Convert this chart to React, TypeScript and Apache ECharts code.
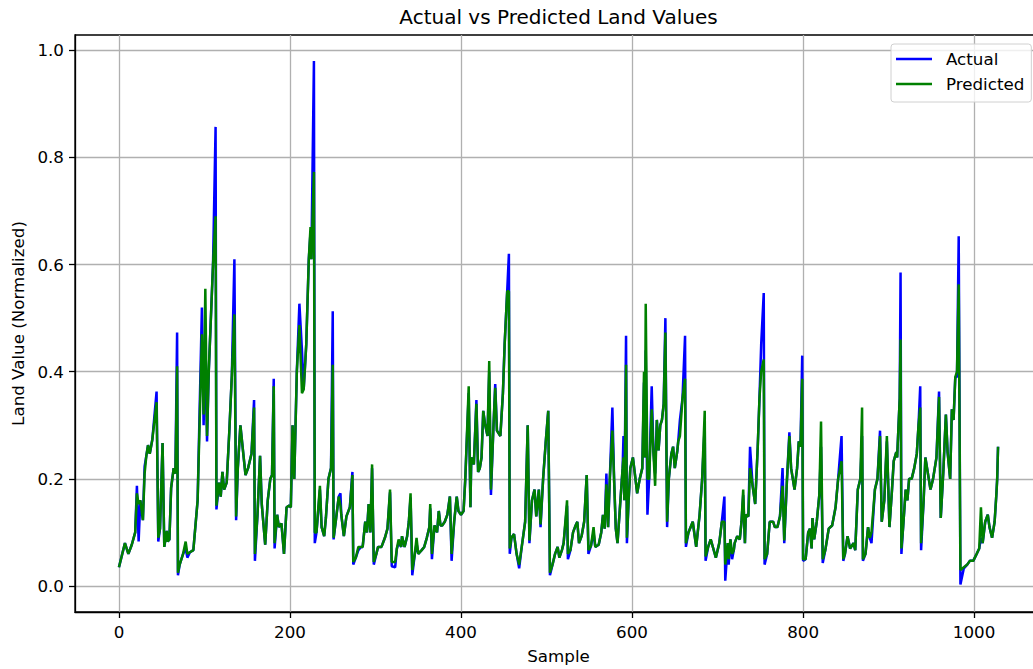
import React, { useEffect, useRef } from "react";
import * as echarts from "echarts";

const samples = [
  0, 7, 11, 15, 19, 21, 23, 25, 28, 30,
  32, 34, 36, 39, 44, 46, 48, 51, 53, 56,
  57, 59, 61, 64, 66, 68, 69, 71, 75, 78,
  80, 83, 87, 92, 97, 99, 101, 103, 105, 110,
  113, 114, 117, 119, 121, 123, 126, 129, 132, 135,
  137, 139, 142, 145, 148, 151, 155, 158, 159, 162,
  165, 167, 171, 174, 177, 179, 181, 182, 185, 187,
  190, 193, 196, 199, 201, 203, 205, 208, 211, 214,
  216, 219, 222, 224, 225, 228, 229, 231, 235, 237,
  240, 242, 245, 248, 250, 251, 254, 257, 259, 260,
  263, 266, 270, 273, 274, 277, 280, 283, 285, 288,
  290, 292, 294, 296, 298, 301, 303, 307, 311, 314,
  317, 319, 323, 325, 327, 330, 331, 334, 337, 339,
  341, 343, 346, 348, 350, 354, 357, 360, 363, 364,
  366, 369, 372, 374, 376, 378, 381, 384, 387, 389,
  392, 395, 397, 400, 403, 405, 409, 411, 412, 415,
  418, 420, 422, 424, 426, 428, 431, 433, 435, 438,
  440, 442, 446, 449, 451, 454, 456, 457, 459, 462,
  465, 468, 471, 475, 478, 480, 483, 486, 488, 491,
  493, 496, 499, 502, 504, 507, 510, 513, 515, 518,
  520, 524, 525, 528, 531, 534, 536, 538, 541, 544,
  547, 549, 552, 555, 557, 561, 564, 566, 568, 570,
  572, 574, 577, 579, 581, 583, 586, 589, 590, 591,
  593, 594, 596, 598, 601, 604, 606, 609, 612, 614,
  615, 616, 618, 620, 623, 625, 627, 629, 631, 633,
  635, 637, 639, 641, 643, 646, 648, 650, 653, 654,
  656, 659, 662, 663, 666, 671, 675, 679, 682, 685,
  686, 689, 692, 695, 698, 702, 705, 708, 709, 712,
  713, 715, 717, 719, 720, 723, 726, 728, 730, 732,
  733, 736, 738, 741, 744, 747, 749, 751, 754, 755,
  758, 761, 765, 767, 770, 773, 776, 778, 781, 784,
  786, 790, 793, 795, 797, 799, 800, 803, 806, 808,
  810, 811, 813, 816, 819, 821, 823, 826, 830, 834,
  838, 841, 845, 847, 849, 852, 855, 859, 861, 864,
  867, 869, 870, 873, 876, 878, 880, 884, 887, 890,
  892, 895, 898, 901, 904, 906, 909, 910, 913, 914,
  915, 917, 920, 922, 924, 927, 930, 933, 935, 937,
  938, 941, 943, 947, 949, 952, 956, 959, 961, 964,
  967, 969, 972, 974, 976, 978, 980, 982, 984, 988,
  992, 995, 999, 1003, 1006, 1008, 1010, 1013, 1016, 1018,
  1021, 1024, 1026, 1027, 1028,
];

const actual = [
  0.035, 0.08, 0.06, 0.077, 0.1, 0.187, 0.083, 0.16, 0.123, 0.223,
  0.243, 0.263, 0.247, 0.273, 0.363, 0.083, 0.107, 0.267, 0.073, 0.103,
  0.083, 0.087, 0.183, 0.22, 0.21, 0.473, 0.02, 0.04, 0.06, 0.07,
  0.053, 0.063, 0.067, 0.16, 0.52, 0.3, 0.45, 0.27, 0.4, 0.6,
  0.857, 0.143, 0.193, 0.167, 0.213, 0.18, 0.193, 0.287, 0.393, 0.61,
  0.123, 0.22, 0.3, 0.253, 0.207, 0.22, 0.247, 0.347, 0.047, 0.133,
  0.243, 0.153, 0.077, 0.16, 0.2, 0.207, 0.387, 0.07, 0.133, 0.11,
  0.117, 0.06, 0.147, 0.15, 0.147, 0.3, 0.2, 0.4, 0.527, 0.44,
  0.367, 0.45, 0.61, 0.66, 0.61, 0.98, 0.08, 0.1, 0.18, 0.11,
  0.093, 0.127, 0.2, 0.22, 0.513, 0.087, 0.127, 0.167, 0.173, 0.133,
  0.093, 0.13, 0.147, 0.213, 0.04, 0.053, 0.067, 0.073, 0.073, 0.12,
  0.1, 0.153, 0.1, 0.22, 0.04, 0.06, 0.073, 0.073, 0.09, 0.107,
  0.175, 0.037, 0.035, 0.07, 0.08, 0.073, 0.093, 0.073, 0.093, 0.12,
  0.165, 0.02, 0.06, 0.08, 0.06, 0.067, 0.073, 0.09, 0.11, 0.145,
  0.05, 0.113, 0.1, 0.14, 0.113, 0.113, 0.12, 0.133, 0.167, 0.047,
  0.12, 0.167, 0.14, 0.133, 0.14, 0.2, 0.36, 0.147, 0.24, 0.227,
  0.347, 0.213, 0.22, 0.24, 0.327, 0.303, 0.28, 0.4, 0.17, 0.3,
  0.377, 0.29, 0.28, 0.36, 0.45, 0.55, 0.62, 0.06, 0.09, 0.097,
  0.06, 0.033, 0.073, 0.12, 0.3, 0.08, 0.16, 0.18, 0.13, 0.18,
  0.11, 0.2, 0.267, 0.327, 0.02, 0.04, 0.06, 0.073, 0.053, 0.067,
  0.08, 0.15, 0.05, 0.067, 0.1, 0.113, 0.12, 0.08, 0.093, 0.12,
  0.207, 0.06, 0.075, 0.1, 0.073, 0.077, 0.1, 0.133, 0.107, 0.21,
  0.11, 0.2, 0.333, 0.2, 0.107, 0.08, 0.15, 0.22, 0.28, 0.16,
  0.467, 0.08, 0.16, 0.22, 0.24, 0.2, 0.173, 0.2, 0.22, 0.38,
  0.24, 0.44, 0.133, 0.2, 0.373, 0.25, 0.21, 0.31, 0.253, 0.3,
  0.31, 0.34, 0.5, 0.11, 0.2, 0.247, 0.26, 0.22, 0.253, 0.27,
  0.31, 0.35, 0.467, 0.073, 0.1, 0.12, 0.073, 0.133, 0.2, 0.3,
  0.047, 0.073, 0.087, 0.07, 0.053, 0.08, 0.12, 0.167, 0.01, 0.08,
  0.04, 0.087, 0.05, 0.067, 0.08, 0.093, 0.087, 0.12, 0.17, 0.08,
  0.133, 0.13, 0.26, 0.187, 0.153, 0.26, 0.35, 0.45, 0.547, 0.04,
  0.06, 0.12, 0.12, 0.11, 0.11, 0.13, 0.22, 0.08, 0.193, 0.287,
  0.22, 0.18, 0.22, 0.27, 0.26, 0.43, 0.047, 0.05, 0.1, 0.107,
  0.07, 0.127, 0.087, 0.12, 0.17, 0.26, 0.043, 0.067, 0.107, 0.113,
  0.147, 0.2, 0.28, 0.047, 0.06, 0.093, 0.07, 0.08, 0.067, 0.18,
  0.2, 0.28, 0.047, 0.06, 0.11, 0.09, 0.08, 0.18, 0.2, 0.29,
  0.12, 0.16, 0.27, 0.11, 0.18, 0.233, 0.25, 0.24, 0.35, 0.585,
  0.06, 0.11, 0.18, 0.16, 0.2, 0.2, 0.22, 0.247, 0.3, 0.373,
  0.067, 0.16, 0.24, 0.2, 0.18, 0.2, 0.24, 0.363, 0.127, 0.213,
  0.32, 0.25, 0.2, 0.33, 0.31, 0.39, 0.39, 0.653, 0.003, 0.033,
  0.04, 0.047, 0.047, 0.06, 0.07, 0.09, 0.08, 0.12, 0.133, 0.11,
  0.09, 0.12, 0.17, 0.2, 0.26,
];

const predicted = [
  0.035, 0.08, 0.06, 0.077, 0.1, 0.173, 0.153, 0.16, 0.123, 0.21,
  0.243, 0.263, 0.247, 0.273, 0.343, 0.09, 0.107, 0.267, 0.073, 0.103,
  0.083, 0.087, 0.183, 0.22, 0.21, 0.41, 0.025, 0.04, 0.06, 0.083,
  0.06, 0.063, 0.067, 0.16, 0.47, 0.32, 0.555, 0.28, 0.4, 0.6,
  0.69, 0.15, 0.193, 0.167, 0.213, 0.18, 0.193, 0.287, 0.393, 0.507,
  0.13, 0.22, 0.3, 0.253, 0.207, 0.22, 0.247, 0.333, 0.06, 0.133,
  0.243, 0.153, 0.077, 0.16, 0.2, 0.207, 0.373, 0.08, 0.133, 0.11,
  0.117, 0.06, 0.147, 0.15, 0.147, 0.3, 0.2, 0.4, 0.487, 0.36,
  0.367, 0.45, 0.61, 0.67, 0.61, 0.773, 0.1, 0.1, 0.187, 0.11,
  0.093, 0.127, 0.2, 0.22, 0.413, 0.09, 0.127, 0.167, 0.15, 0.133,
  0.093, 0.13, 0.147, 0.207, 0.045, 0.053, 0.073, 0.073, 0.073, 0.12,
  0.1, 0.153, 0.1, 0.227, 0.045, 0.06, 0.073, 0.073, 0.09, 0.107,
  0.18, 0.045, 0.045, 0.07, 0.087, 0.073, 0.093, 0.073, 0.093, 0.12,
  0.173, 0.03, 0.06, 0.09, 0.06, 0.067, 0.073, 0.09, 0.11, 0.153,
  0.06, 0.113, 0.1, 0.14, 0.113, 0.113, 0.12, 0.133, 0.167, 0.06,
  0.12, 0.167, 0.14, 0.133, 0.14, 0.2, 0.373, 0.147, 0.24, 0.227,
  0.34, 0.213, 0.22, 0.24, 0.327, 0.303, 0.28, 0.42, 0.18, 0.3,
  0.37, 0.29, 0.28, 0.36, 0.45, 0.55, 0.55, 0.07, 0.09, 0.097,
  0.06, 0.04, 0.073, 0.12, 0.3, 0.085, 0.16, 0.18, 0.13, 0.18,
  0.115, 0.2, 0.267, 0.327, 0.025, 0.04, 0.06, 0.073, 0.053, 0.067,
  0.08, 0.16, 0.06, 0.067, 0.1, 0.113, 0.12, 0.08, 0.093, 0.12,
  0.207, 0.067, 0.075, 0.11, 0.073, 0.077, 0.1, 0.133, 0.107, 0.19,
  0.11, 0.2, 0.29, 0.2, 0.107, 0.08, 0.15, 0.22, 0.24, 0.16,
  0.413, 0.09, 0.16, 0.22, 0.24, 0.2, 0.173, 0.2, 0.22, 0.4,
  0.24, 0.527, 0.2, 0.2, 0.33, 0.25, 0.187, 0.31, 0.253, 0.3,
  0.31, 0.34, 0.473, 0.12, 0.2, 0.247, 0.26, 0.22, 0.253, 0.27,
  0.28, 0.35, 0.387, 0.08, 0.1, 0.12, 0.073, 0.133, 0.2, 0.327,
  0.055, 0.073, 0.087, 0.07, 0.053, 0.08, 0.12, 0.12, 0.04, 0.08,
  0.05, 0.087, 0.06, 0.067, 0.08, 0.093, 0.087, 0.12, 0.18, 0.08,
  0.133, 0.13, 0.22, 0.187, 0.153, 0.26, 0.35, 0.4, 0.423, 0.05,
  0.06, 0.12, 0.12, 0.11, 0.11, 0.13, 0.187, 0.085, 0.193, 0.28,
  0.22, 0.18, 0.22, 0.27, 0.26, 0.387, 0.05, 0.05, 0.1, 0.107,
  0.07, 0.127, 0.087, 0.12, 0.17, 0.307, 0.05, 0.067, 0.107, 0.113,
  0.147, 0.2, 0.233, 0.05, 0.06, 0.093, 0.07, 0.08, 0.067, 0.18,
  0.2, 0.333, 0.05, 0.06, 0.11, 0.09, 0.1, 0.18, 0.2, 0.28,
  0.12, 0.16, 0.28, 0.11, 0.18, 0.233, 0.25, 0.24, 0.35, 0.46,
  0.07, 0.11, 0.18, 0.16, 0.2, 0.2, 0.22, 0.247, 0.3, 0.333,
  0.08, 0.16, 0.24, 0.2, 0.18, 0.2, 0.24, 0.353, 0.127, 0.213,
  0.32, 0.25, 0.2, 0.33, 0.31, 0.39, 0.4, 0.563, 0.03, 0.035,
  0.04, 0.047, 0.047, 0.06, 0.07, 0.147, 0.08, 0.12, 0.133, 0.11,
  0.09, 0.12, 0.17, 0.2, 0.26,
];

const xTicks = [0, 200, 400, 600, 800, 1000];
const yTicks = [0, 0.2, 0.4, 0.6, 0.8, 1.0];

const FONT = "DejaVu Sans";
const FS = 16.7;

export default function App() {
  const ref = useRef<HTMLDivElement>(null);
  useEffect(() => {
    if (!ref.current) return;
    const chart = echarts.init(ref.current, null, { renderer: "svg" });
    const tickStyle = { show: true, length: 6, inside: false, lineStyle: { color: "#000", width: 1.3 } };
    chart.setOption({
      animation: false,
      backgroundColor: "#ffffff",
      textStyle: { fontFamily: FONT },
      graphic: [
        {
          type: "text",
          x: 558.5,
          y: 17,
          style: {
            text: "Actual vs Predicted Land Values",
            align: "center",
            verticalAlign: "middle",
            fontSize: 20,
            fontFamily: FONT,
            fill: "#000",
          },
        },
      ],
      grid: {
        left: 75,
        top: 35,
        width: 967,
        height: 577,
        show: true,
        borderColor: "#000",
        borderWidth: 1.3,
        backgroundColor: "transparent",
      },
      legend: {
        orient: "vertical",
        left: 891,
        top: 44,
        itemWidth: 36,
        itemHeight: 2.5,
        icon: "rect",
        itemGap: 5,
        padding: [5, 7, 8, 5],
        backgroundColor: "rgba(255,255,255,0.8)",
        borderColor: "#d0d0d0",
        borderWidth: 1,
        borderRadius: 3,
        textStyle: { fontSize: FS, color: "#000", fontFamily: FONT, lineHeight: 20, padding: [0, 0, 0, 9] },
        data: ["Actual", "Predicted"],
      },
      xAxis: {
        type: "value",
        min: -51.4,
        max: 1079.4,
        name: "Sample",
        nameLocation: "middle",
        nameGap: 35,
        nameTextStyle: { fontSize: FS, color: "#000", fontFamily: FONT },
        axisLine: { show: true, onZero: false, lineStyle: { color: "#000", width: 1.3 } },
        axisTick: { ...tickStyle, customValues: xTicks },
        axisLabel: {
          customValues: xTicks,
          fontSize: FS,
          color: "#000",
          margin: 11,
          fontFamily: FONT,
          formatter: (v: number) => String(Math.round(v)),
        },
        splitLine: { show: true, lineStyle: { color: "#b0b0b0", width: 1.3 } },
      },
      yAxis: {
        type: "value",
        min: -0.0485,
        max: 1.0285,
        name: "Land Value (Normalized)",
        nameLocation: "middle",
        nameGap: 49,
        nameRotate: 90,
        nameTextStyle: { fontSize: FS, color: "#000", fontFamily: FONT },
        axisLine: { show: true, onZero: false, lineStyle: { color: "#000", width: 1.3 } },
        axisTick: { ...tickStyle, customValues: yTicks },
        axisLabel: {
          customValues: yTicks,
          fontSize: FS,
          color: "#000",
          margin: 11,
          fontFamily: FONT,
          formatter: (v: number) => v.toFixed(1),
        },
        splitLine: { show: true, lineStyle: { color: "#b0b0b0", width: 1.3 } },
      },
      series: [
        {
          name: "Actual",
          type: "line",
          data: samples.map((x, i) => [x, actual[i]]),
          symbol: "none",
          lineStyle: { color: "#0000ff", width: 2.5 },
          itemStyle: { color: "#0000ff" },
          z: 2,
        },
        {
          name: "Predicted",
          type: "line",
          data: samples.map((x, i) => [x, predicted[i]]),
          symbol: "none",
          lineStyle: { color: "#008000", width: 2.5 },
          itemStyle: { color: "#008000" },
          z: 3,
        },
      ],
    });
    return () => chart.dispose();
  }, []);
  return (
    <div
      ref={ref}
      style={{ position: "fixed", left: 0, top: 0, width: 1045, height: 669 }}
    />
  );
}
